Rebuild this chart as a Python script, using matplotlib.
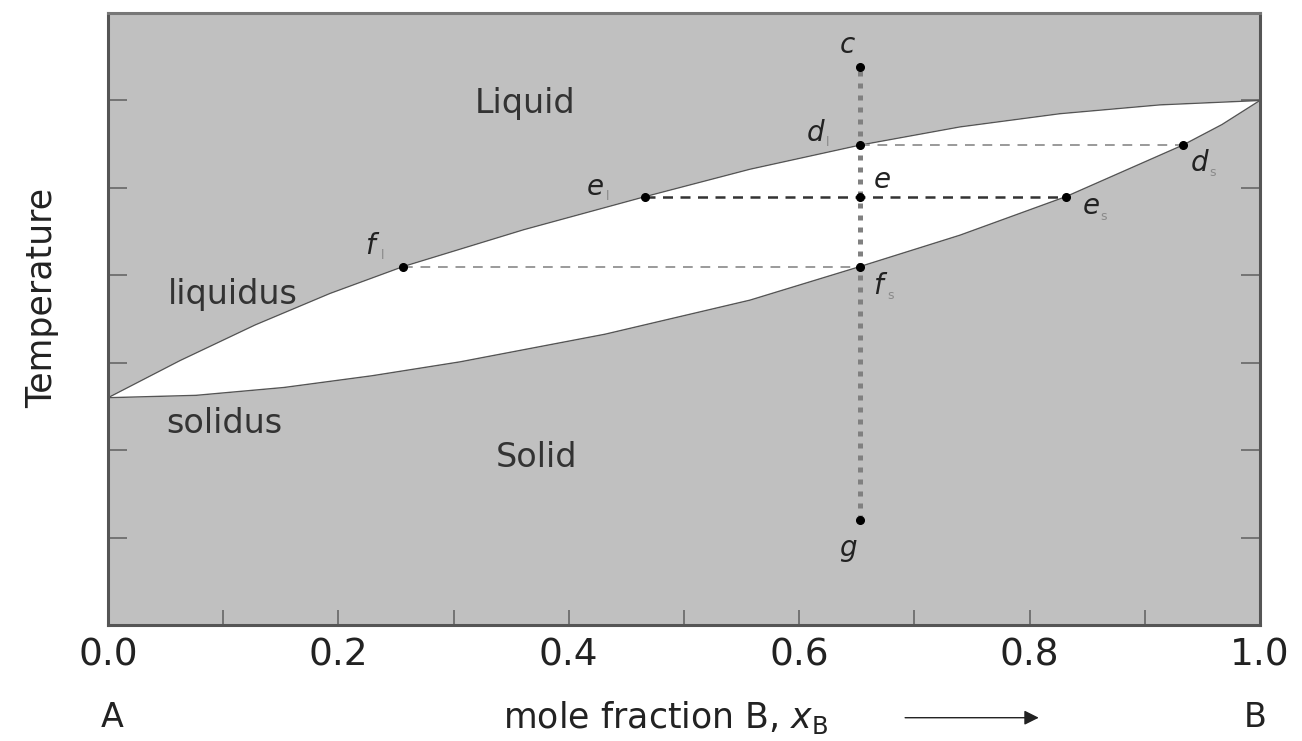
import numpy as np
import matplotlib
matplotlib.use("Agg")
from matplotlib import pyplot as plt

# liquidus / solidus curves of the ideal A-B system (x_B, temperature)
liq_x = [0.0, 0.0625, 0.1276, 0.1927, 0.2561, 0.3611, 0.4661, 0.5573, 0.6528,
         0.7396, 0.8264, 0.9132, 1.0]
liq_t = [2.60, 3.025, 3.432, 3.793, 4.10, 4.523, 4.90, 5.214, 5.49,
         5.698, 5.849, 5.95, 6.0]
sol_x = [0.0, 0.0764, 0.1528, 0.2292, 0.3056, 0.4314, 0.5573, 0.6528,
         0.7396, 0.8316, 0.9332, 0.9670, 1.0]
sol_t = [2.60, 2.627, 2.717, 2.851, 3.010, 3.326, 3.716, 4.10,
         4.459, 4.90, 5.49, 5.724, 6.0]

# overall composition and the three tie-line temperatures
x0 = 0.6528
t_c, t_g = 6.38, 1.20
t_d, t_e, t_f = 5.49, 4.90, 4.10
xd_l, xd_s = 0.6528, 0.9332
xe_l, xe_s = 0.4661, 0.8316
xf_l, xf_s = 0.2561, 0.6528

# point labels: (x, T, letter, subscript, dx, dy) with offsets in points
points = [
    (x0, t_c, "c", "", -9, 16),
    (xd_l, t_d, "d", "l", -32, 9),
    (x0, t_e, "e", "", 16, 12),
    (xe_l, t_e, "e", "l", -36, 7),
    (xf_l, t_f, "f", "l", -24, 15),
    (xf_s, t_f, "f", "s", 13, -14),
    (xe_s, t_e, "e", "s", 18, -7),
    (xd_s, t_d, "d", "s", 12, -13),
    (x0, t_g, "g", "", -9, -20),
]

plt.rcParams["font.family"] = "DejaVu Sans"

fig = plt.figure(figsize=(13.02, 7.41), dpi=100)
ax = fig.add_axes([0.0829, 0.1565, 0.8848, 0.8259])
ax.set_facecolor("#c0c0c0")

# two-phase lens
lens_x = np.concatenate([liq_x, sol_x[::-1]])
lens_t = np.concatenate([liq_t, sol_t[::-1]])
ax.fill(lens_x, lens_t, color="white", zorder=1)
ax.plot(liq_x, liq_t, color="#555555", lw=1.0, zorder=2)
ax.plot(sol_x, sol_t, color="#555555", lw=1.0, zorder=2)

# tie lines
ax.plot([xd_l, xd_s], [t_d, t_d], color="#9a9a9a", lw=1.4, ls=(0, (5, 4)), zorder=3)
ax.plot([xf_l, xf_s], [t_f, t_f], color="#9a9a9a", lw=1.4, ls=(0, (5, 4)), zorder=3)
ax.plot([xe_l, xe_s], [t_e, t_e], color="#333333", lw=1.8, ls=(0, (4, 3)), zorder=3)

# cooling path
ax.plot([x0, x0], [t_g, t_c], color="#808080", lw=3.6, ls=(0, (1.0, 1.4)), zorder=4)

for px, pt, letter, sub, dx, dy in points:
    ax.plot(px, pt, "o", color="black", ms=5.5, zorder=5)
    ax.annotate(letter, (px, pt), xytext=(dx, dy), textcoords="offset points",
                ha="center", va="center", fontsize=20, style="italic",
                color="#222222")
    if sub:
        ax.annotate(sub, (px, pt), xytext=(dx + 9, dy - 7), textcoords="offset points",
                    ha="center", va="center", fontsize=9, color="#8a8a8a")

# region names
ax.text(0.362, 5.97, "Liquid", fontsize=24, color="#333333", ha="center", va="center")
ax.text(0.108, 3.78, "liquidus", fontsize=24, color="#333333", ha="center", va="center")
ax.text(0.101, 2.30, "solidus", fontsize=24, color="#333333", ha="center", va="center")
ax.text(0.372, 1.92, "Solid", fontsize=24, color="#333333", ha="center", va="center")

ax.set_xlim(0, 1)
ax.set_ylim(0, 7)
ax.set_xticks(np.arange(0, 1.01, 0.2))
ax.set_xticklabels(["0.0", "0.2", "0.4", "0.6", "0.8", "1.0"])
ax.set_xticks(np.arange(0.1, 1.0, 0.2), minor=True)
ax.set_yticks(range(0, 8))
ax.set_yticklabels([])
ax.tick_params(axis="x", which="both", direction="in", length=11, width=1.2,
               color="#666666", labelsize=27, pad=9, labelcolor="#222222")
ax.tick_params(axis="y", direction="in", length=14, width=1.2, color="#666666",
               left=True, right=True)
for side in ["left", "right", "top", "bottom"]:
    ax.spines[side].set_color("#555555")
    ax.spines[side].set_linewidth(2.2)
ax.spines["top"].set_color("#777777")

ax.set_ylabel("Temperature", fontsize=25, color="#222222")
ax.yaxis.set_label_coords(-0.042, 0.534)

# composition axis caption below the tick labels
ax.text(0.004, -1.06, "A", fontsize=24, color="#222222", ha="center", va="center",
        clip_on=False)
ax.text(0.996, -1.06, "B", fontsize=24, color="#222222", ha="center", va="center",
        clip_on=False)
ax.text(0.484, -1.06, r"mole fraction B, $x_{\mathregular{B}}$", fontsize=25,
        color="#222222", ha="center", va="center", clip_on=False)
ax.annotate("", xy=(0.808, -1.06), xytext=(0.692, -1.06), annotation_clip=False,
            arrowprops=dict(arrowstyle="-|>", color="#222222", lw=1.0,
                            mutation_scale=22, shrinkA=0, shrinkB=0))

plt.savefig("out.png", dpi=100, facecolor="white")
